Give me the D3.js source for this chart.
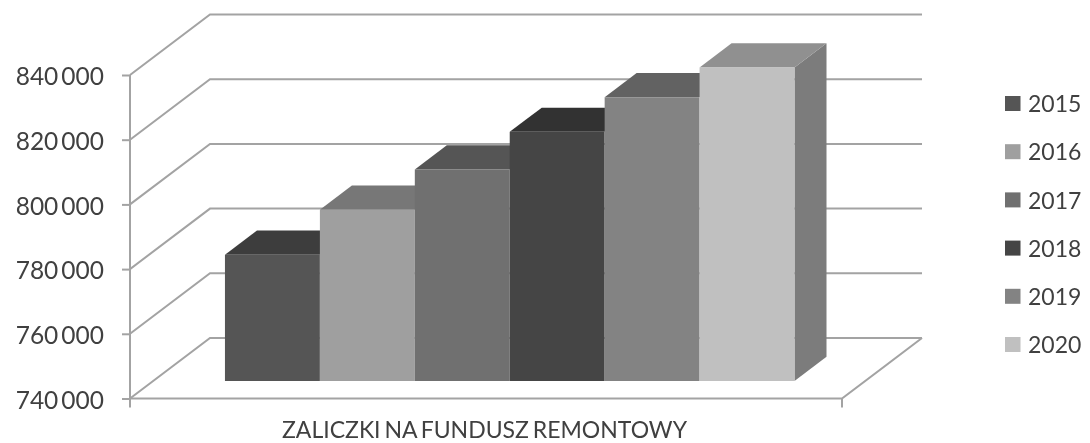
<!DOCTYPE html>
<html><head><meta charset="utf-8">
<script src="https://cdn.jsdelivr.net/npm/d3@7"></script>
<style>html,body{margin:0;padding:0;background:#fff}svg{display:block}text{font-family:Lato,"Open Sans",sans-serif;fill:#404040}</style>
</head><body><svg id="c" width="1090" height="443"></svg>
<script>
const years=["2015","2016","2017","2018","2019","2020"];
const values=[779000,792900,805400,817000,827700,836900];
const frontColors=["#555555","#9f9f9f","#6f6f6f","#454545","#838383","#c0c0c0"];
const topColors=["#3e3e3e","#777777","#555555","#333333","#626262","#909090"];
const sideColor="#7b7b7b";
const tickValues=[740000,760000,780000,800000,820000,840000];
const axisLabel="ZALICZKI NA FUNDUSZ REMONTOWY";
const gridColor="#a3a3a3";

const svg=d3.select("#c");
const defs=svg.append("defs");
defs.append("filter").attr("id","soft").attr("x","-2%").attr("y","-2%").attr("width","104%").attr("height","104%")
  .append("feGaussianBlur").attr("stdDeviation",0.55);
const g=svg.append("g").attr("filter","url(#soft)");

const y=d3.scaleLinear().domain([740000,840000]).range([398.5,75]);
const xFront=d3.scaleLinear().domain([0,1]).range([130,842]);
const depth=d3.scaleLinear().domain([0,1]);
const depthX=depth.copy().range([0,80]);
const depthY=depth.copy().range([0,-60.5]);
const project=(u,v,d)=>[xFront(u)+depthX(d),y(v)+depthY(d)];

// walls, floor and gridlines
const pathOf=d3.line();
tickValues.forEach(v=>{
  g.append("path").attr("d",pathOf([project(0,v,0),project(0,v,1),project(1,v,1)]))
   .attr("fill","none").attr("stroke",gridColor).attr("stroke-width",2);
});
g.append("path").attr("d",pathOf([project(0,740000,0),project(1,740000,0),project(1,740000,1)]))
 .attr("fill","none").attr("stroke",gridColor).attr("stroke-width",2);

// value axis
const axis=d3.axisLeft(y).tickValues(tickValues).tickSize(8).tickPadding(18)
  .tickFormat(v=>d3.format(",")(v).replace(",","\u2009"));
const ag=g.append("g").attr("transform","translate(130,0)").call(axis);
ag.select(".domain").remove();
ag.selectAll("line").attr("stroke",gridColor).attr("stroke-width",2);
ag.selectAll("text").attr("font-size",24.5).attr("fill","#404040").attr("font-family","Lato,sans-serif").attr("dy","0.4em");
[0,1].forEach(u=>{
  const p=project(u,740000,0);
  g.append("line").attr("x1",p[0]).attr("x2",p[0]).attr("y1",u?p[1]:y(840000)).attr("y2",p[1]+9)
   .attr("stroke",gridColor).attr("stroke-width",2);
});

// bars
const xBar=d3.scaleBand().domain(years).range([0.1008,0.9007]).padding(0);
const d0=0.29,d1=0.69;
years.forEach((yr,i)=>{
  const a=xBar(yr),b=a+xBar.bandwidth(),v=values[i];
  if(i===years.length-1){
    g.append("path").attr("d",pathOf([project(b,740000,d0),project(b,v,d0),project(b,v,d1),project(b,740000,d1)])+"Z")
     .attr("fill",sideColor);
  }
  g.append("path").attr("d",pathOf([project(a,v,d0),project(b,v,d0),project(b,v,d1),project(a,v,d1)])+"Z")
   .attr("fill",topColors[i]);
});
years.forEach((yr,i)=>{
  const a=xBar(yr),b=a+xBar.bandwidth(),v=values[i];
  g.append("path").attr("d",pathOf([project(a,740000,d0),project(b,740000,d0),project(b,v,d0),project(a,v,d0)])+"Z")
   .attr("fill",frontColors[i]);
});

// category label
g.append("text").attr("x",484.5).attr("y",438).attr("text-anchor","middle").attr("font-size",23)
 .attr("word-spacing","-2").text(axisLabel);

// legend
const legendY=d3.scalePoint().domain(years).range([103.5,344.5]);
const lg=g.selectAll(".lg").data(years).join("g").attr("class","lg").attr("transform",d=>`translate(1005,${legendY(d)})`);
lg.append("rect").attr("y",-7.5).attr("width",15.5).attr("height",15).attr("fill",(d,i)=>frontColors[i]);
lg.append("text").attr("x",23).attr("dy","0.38em").attr("font-size",23).text(d=>d);
</script></body></html>
